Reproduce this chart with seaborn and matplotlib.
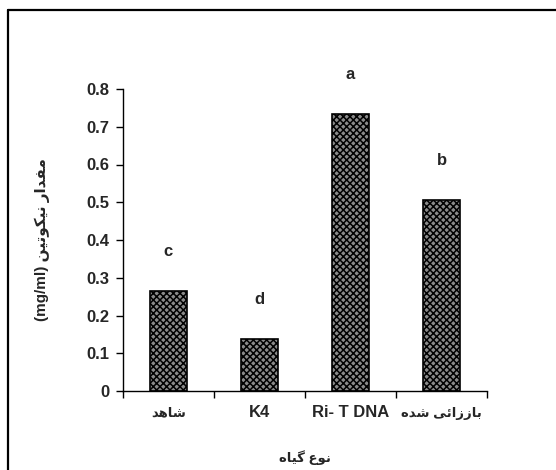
import numpy as np
import pandas as pd
import matplotlib
matplotlib.use("Agg")
import matplotlib.pyplot as plt
from matplotlib.lines import Line2D
import seaborn as sns

# Persian strings are stored in visual (presentation-form, left-to-right) order,
# since matplotlib does no Arabic shaping on its own.
# logical: ["شاهد", "K4", "Ri- T DNA", "باززائی شده"]
categories = [
    "\uFEAA\uFEEB\uFE8E\uFEB7",
    "K4",
    "Ri- T DNA",
    "\uFEE9\uFEAA\uFEB7 \uFEF0\uFE8B\uFE8D\uFEAF\uFEAF\uFE8E\uFE91",
]
nicotine = [0.265, 0.137, 0.733, 0.506]
letters = ["c", "d", "a", "b"]
y_ticks = [0, 0.1, 0.2, 0.3, 0.4, 0.5, 0.6, 0.7, 0.8]
# logical: "نوع گیاه"
x_label = "\uFEE9\uFE8E\uFEF4\uFB94 \uFEC9\uFEEE\uFEE7"
# logical: "مقدار نیکوتین (mg/ml)"
y_label = "(mg/ml) \uFEE6\uFEF4\uFE97\uFEEE\uFEDC\uFEF4\uFEE7 \uFEAD\uFE8D\uFEAA\uFED4\uFEE3"

sns.set_style("white")
plt.rcParams['font.family'] = ['Liberation Sans', 'DejaVu Sans']
plt.rcParams['font.weight'] = 'bold'
plt.rcParams['hatch.linewidth'] = 1.1
plt.rcParams['hatch.color'] = 'black'

df = pd.DataFrame({"plant": categories, "value": nicotine})

fig = plt.figure(figsize=(5.56, 4.70), dpi=100)
ax = fig.add_axes([123 / 556, 79 / 470, 364 / 556, 302 / 470])

sns.barplot(data=df, x="plant", y="value", color="#8a8a8a", width=0.4,
            edgecolor="black", linewidth=1.2, hatch="xxxxx", ax=ax)

for i, (v, lab) in enumerate(zip(nicotine, letters)):
    ax.text(i, v + 0.105, lab, ha="center", va="center", fontsize=12, fontweight="bold")

ax.set_xlim(-0.5, len(categories) - 0.5)
ax.set_ylim(0, 0.8)
ax.set_yticks(y_ticks)
ax.set_yticklabels([f"{t:g}" for t in y_ticks], fontsize=12, fontweight="bold")
ax.set_xticks(range(len(categories)))
ax.set_xticklabels(categories, fontsize=12, fontweight="bold", va="baseline")
# Persian labels use the wider DejaVu glyphs, so set them smaller
for t in ax.get_xticklabels():
    if any(ord(ch) > 0x600 for ch in t.get_text()):
        t.set_fontsize(9.5)
ax.set_xticks(np.arange(-0.5, len(categories)), minor=True)
ax.tick_params(axis="x", which="major", length=0, pad=18.5)
ax.tick_params(axis="x", which="minor", length=5, width=1, direction="out", color="black")
ax.tick_params(axis="y", length=5, width=1, direction="out", color="black", pad=5)
ax.yaxis.set_ticks_position("left")
ax.xaxis.set_ticks_position("bottom")

ax.set_xlabel(x_label, fontsize=9.5, fontweight="bold", labelpad=22)
ax.set_ylabel(y_label, fontsize=11, fontweight="bold", labelpad=26)

for side in ["top", "right"]:
    ax.spines[side].set_visible(False)
for side in ["left", "bottom"]:
    ax.spines[side].set_color("black")
    ax.spines[side].set_linewidth(1)

# outer frame (only left and top edges fall inside the picture)
fig.add_artist(Line2D([8 / 556, 8 / 556], [0, 1 - 10 / 470], color="black", lw=1.6,
                      transform=fig.transFigure))
fig.add_artist(Line2D([8 / 556, 1], [1 - 10 / 470, 1 - 10 / 470], color="black", lw=1.6,
                      transform=fig.transFigure))

fig.savefig("out.png", dpi=100)
